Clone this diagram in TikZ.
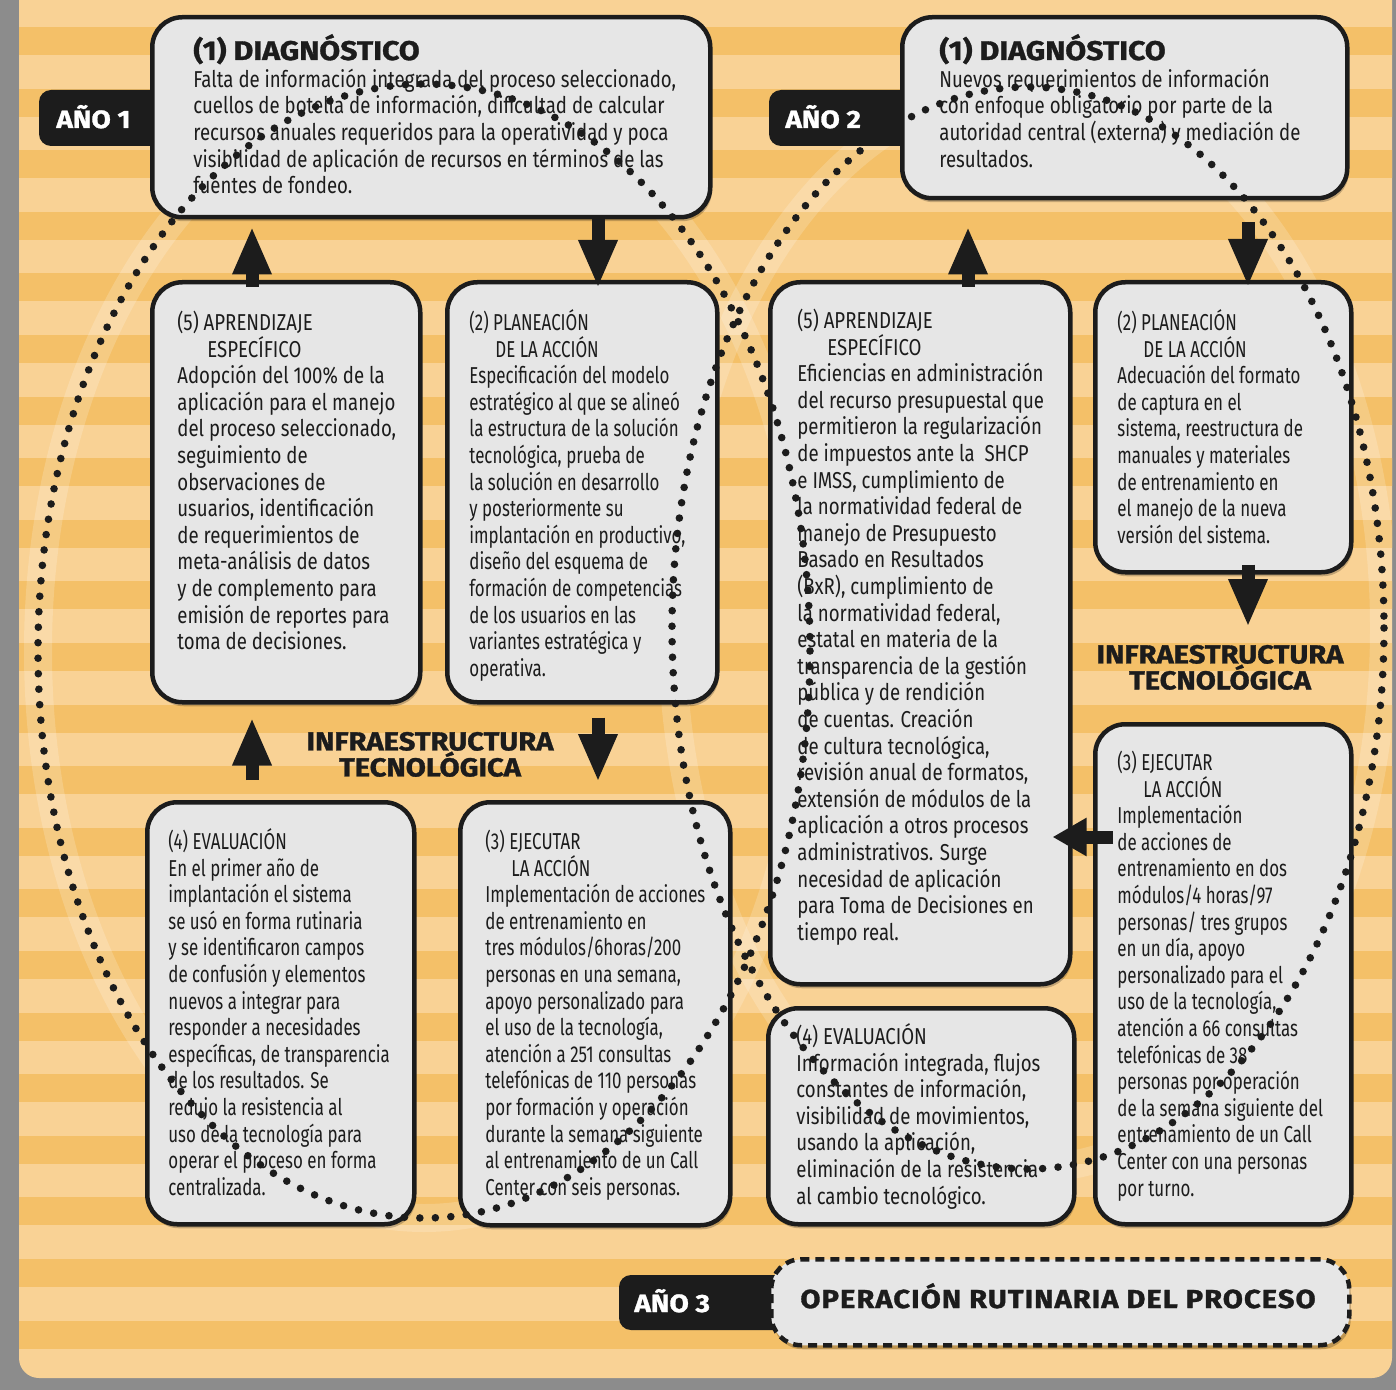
\documentclass[tikz,border=0pt]{standalone}
\usepackage{fontspec}
\setmainfont{Fira Sans}
\newfontfamily\regfont[FakeStretch=0.81]{Fira Sans}
\newfontfamily\cndfont[FakeStretch=0.735]{Fira Sans}
\newfontfamily\ttlfont[FakeStretch=1.12, FakeBold=1.2]{Fira Sans}
\newfontfamily\opfont[FakeStretch=1.12, FakeBold=1.2, LetterSpace=4]{Fira Sans}
\usetikzlibrary{arrows.meta}

\definecolor{stripeA}{RGB}{249,210,149}
\definecolor{stripeB}{RGB}{244,192,104}
\definecolor{frameg}{RGB}{140,140,140}
\definecolor{boxg}{RGB}{230,230,230}
\definecolor{inkb}{RGB}{28,28,28}

\newcommand{\tl}{\rule{0pt}{11pt}}

\tikzset{
  box/.style={draw=inkb, line width=2.25pt, fill=boxg, rounded corners=15pt, anchor=north west, inner sep=0pt,
    preaction={fill=black, opacity=0.22, transform canvas={xshift=0.75pt, yshift=-2pt}}},
  regtxt/.style={anchor=north west, inner sep=0pt, align=left, text=inkb, font=\fontsize{11.5}{13.3}\regfont},
  cndtxt/.style={anchor=north west, inner sep=0pt, align=left, text=inkb, font=\fontsize{11.5}{13.3}\cndfont},
  ttltxt/.style={anchor=base west, inner sep=0pt, text=inkb, font=\fontsize{13.5}{16}\ttlfont\bfseries},
  yeartxt/.style={anchor=base west, inner sep=0pt, text=white, font=\fontsize{12.5}{15}\ttlfont\bfseries},
  infratxt/.style={anchor=north, inner sep=0pt, align=center, text=inkb, font=\fontsize{13}{13}\ttlfont\bfseries},
  tagbox/.style={fill=inkb, rounded corners=6pt},
  bigarrow/.style={draw=inkb, line width=6.5pt, -{Triangle[length=24pt, width=18pt]}},
  sidearrow/.style={draw=inkb, line width=6.5pt, -{Triangle[length=17pt, width=18pt]}},
  dotline/.style={draw=inkb, line width=3.8pt, line cap=round, dash pattern=on 0pt off 7.75pt},
  glowline/.style={draw=white, line width=14pt, opacity=0.18},
}

\begin{document}
\begin{tikzpicture}[x=0.5pt,y=0.5pt,yscale=-1]
\useasboundingbox (0,0) rectangle (1396,1390);

%Shape: frame and striped panel
\fill[frameg] (0,0) rectangle (1396,1390);
\begin{scope}
  \clip[rounded corners=10pt] (19,-40) rectangle (1392,1378);
  \fill[stripeA] (0,0) rectangle (1396,1390);
  \foreach \k in {0,...,22}
    \fill[stripeB] (0,{27+61.6*\k}) rectangle (1396,{55+61.6*\k});
  %Shape: soft glow under the cycles
  \draw[glowline] (424,651) ellipse [x radius=386, y radius=567];
  \draw[glowline] (1028,628) ellipse [x radius=356, y radius=541];
\end{scope}

%Rounded Rect: year tags
\fill[tagbox] (39,90) rectangle (200,146);
\fill[tagbox] (769,90) rectangle (930,146);
\fill[tagbox] (619,1275) rectangle (800,1330);

%Rounded Rect: year 1 boxes
\node[box, minimum width=279pt, minimum height=100pt] (d1) at (150,15) {};
\node[box, minimum width=134pt, minimum height=210pt] (b5a) at (150,280) {};
\node[box, minimum width=135pt, minimum height=210pt] (b2a) at (445,280) {};
\node[box, minimum width=133.5pt, minimum height=211pt] (b4a) at (145,800) {};
\node[box, minimum width=135pt, minimum height=211.5pt] (b3a) at (458,800) {};
%Rounded Rect: year 2 boxes
\node[box, minimum width=222.5pt, minimum height=90.5pt] (d2) at (900,15) {};
\node[box, minimum width=150pt, minimum height=351pt] (b5b) at (768,280) {};
\node[box, minimum width=128pt, minimum height=145pt] (b2b) at (1093,280) {};
\node[box, minimum width=128pt, minimum height=250pt] (b3b) at (1093,722) {};
\node[box, minimum width=153pt, minimum height=108pt] (b4b) at (766,1006) {};
%Rounded Rect: year 3 box
\node[box, dash pattern=on 4.5pt off 3pt, minimum width=289pt, minimum height=43pt] (op) at (769,1257) {};

% Text Node: tags
\node[yeartxt] (y1) at (56,128) {AÑO 1};
\node[yeartxt] (y2) at (785,128) {AÑO 2};
\node[yeartxt] (y3) at (634,1312) {AÑO 3};

% Text Node: year 1
\node[ttltxt] (d1t) at (193,60) {(1) DIAGNÓSTICO};
\node[regtxt] (d1x) at (193,65) {\tl Falta de información integrada del proceso seleccionado,\\cuellos de botella de información, dificultad de calcular\\recursos anuales requeridos para la operatividad y poca\\visibilidad de aplicación de recursos en términos de las\\fuentes de fondeo.};
\node[regtxt] (b5ax) at (177,308) {\tl(5) APRENDIZAJE\\\hspace*{15pt}ESPECÍFICO\\Adopción del 100\% de la\\aplicación para el manejo\\del proceso seleccionado,\\seguimiento de\\observaciones de\\usuarios, identificación\\de requerimientos de\\meta-análisis de datos\\y de complemento para\\emisión de reportes para\\toma de decisiones.};
\node[cndtxt] (b2ax) at (469,308) {\tl(2) PLANEACIÓN\\\hspace*{13pt}DE LA ACCIÓN\\Especificación del modelo\\estratégico al que se alineó\\la estructura de la solución\\tecnológica, prueba de\\la solución en desarrollo\\y posteriormente su\\implantación en productivo,\\diseño del esquema de\\formación de competencias\\de los usuarios en las\\variantes estratégica y\\operativa.};
\node[cndtxt] (b4ax) at (168,827) {\tl(4) EVALUACIÓN\\En el primer año de\\implantación el sistema\\se usó en forma rutinaria\\y se identificaron campos\\de confusión y elementos\\nuevos a integrar para\\responder a necesidades\\específicas, de transparencia\\de los resultados. Se\\redujo la resistencia al\\uso de la tecnología para\\operar el proceso en forma\\centralizada.};
\node[cndtxt] (b3ax) at (485,827) {\tl(3) EJECUTAR\\\hspace*{13pt}LA ACCIÓN\\Implementación de acciones\\de entrenamiento en\\tres módulos/6horas/200\\personas en una semana,\\apoyo personalizado para\\el uso de la tecnología,\\atención a 251 consultas\\telefónicas de 110 personas\\por formación y operación\\durante la semana siguiente\\al entrenamiento de un Call\\Center con seis personas.};
\node[infratxt] (inf1) at (430,728) {\tl INFRAESTRUCTURA\\TECNOLÓGICA};

% Text Node: year 2
\node[ttltxt] (d2t) at (939,60) {(1) DIAGNÓSTICO};
\node[regtxt] (d2x) at (939,65) {\tl Nuevos requerimientos de información\\con enfoque obligatorio por parte de la\\autoridad central (externa) y mediación de\\resultados.};
\node[regtxt] (b5bx) at (797,306) {\tl(5) APRENDIZAJE\\\hspace*{15pt}ESPECÍFICO\\Eficiencias en administración\\del recurso presupuestal que\\permitieron la regularización\\de impuestos ante la\ \ SHCP\\e IMSS, cumplimiento de\\la normatividad federal de\\manejo de Presupuesto\\Basado en Resultados\\(BxR), cumplimiento de\\la normatividad federal,\\estatal en materia de la\\transparencia de la gestión\\pública y de rendición\\de cuentas. Creación\\de cultura tecnológica,\\revisión anual de formatos,\\extensión de módulos de la\\aplicación a otros procesos\\administrativos. Surge\\necesidad de aplicación\\para Toma de Decisiones en\\tiempo real.};
\node[cndtxt] (b2bx) at (1117,308) {\tl(2) PLANEACIÓN\\\hspace*{13pt}DE LA ACCIÓN\\Adecuación del formato\\de captura en el\\sistema, reestructura de\\manuales y materiales\\de entrenamiento en\\el manejo de la nueva\\versión del sistema.};
\node[cndtxt] (b3bx) at (1117,748) {\tl(3) EJECUTAR\\\hspace*{13pt}LA ACCIÓN\\Implementación\\de acciones de\\entrenamiento en dos\\módulos/4 horas/97\\personas/ tres grupos\\en un día, apoyo\\personalizado para el\\uso de la tecnología,\\atención a 66 consultas\\telefónicas de 38\\personas por operación\\de la semana siguiente del\\entrenamiento de un Call\\Center con una personas\\por turno.};
\node[regtxt] (b4bx) at (796,1022) {\tl(4) EVALUACIÓN\\Información integrada, flujos\\constantes de información,\\visibilidad de movimientos,\\usando la aplicación,\\eliminación de la resistencia\\al cambio tecnológico.};
\node[infratxt] (inf2) at (1220,641) {\tl INFRAESTRUCTURA\\TECNOLÓGICA};

% Text Node: year 3
\node[ttltxt, font=\fontsize{13}{16}\opfont\bfseries] (opt) at (800,1308) {OPERACIÓN RUTINARIA DEL PROCESO};

%Straight Lines: cycle arrows
\coordinate (ax1) at (252,0);
\coordinate (ax2) at (598,0);
\coordinate (ax3) at (968,0);
\coordinate (ax4) at (1248,0);
\coordinate (ay1) at (0,837);
\coordinate (la) at (b3b.west |- ay1);
\coordinate (lb) at (b5b.east |- ay1);
\draw[bigarrow, shorten <=-3.5pt, shorten >=3.5pt] (b5a.north -| ax1) -- (d1.south -| ax1);
\draw[bigarrow, shorten >=-4pt] (d1.south -| ax2) -- (b2a.north -| ax2);
\draw[bigarrow, shorten <=6.5pt, shorten >=9pt] (b2a.south -| ax2) -- (b3a.north -| ax2);
\draw[bigarrow, shorten <=10pt, shorten >=6.5pt] (b4a.north -| ax1) -- (b5a.south -| ax1);
\draw[bigarrow, shorten <=-3.5pt, shorten >=13pt] (b5b.north -| ax3) -- (d2.south -| ax3);
\draw[bigarrow, shorten <=11pt, shorten >=-3.5pt] (d2.south -| ax4) -- (b2b.north -| ax4);
\draw[bigarrow, shorten <=-5pt, shorten >=47.5pt] (b2b.south -| ax4) -- (b3b.north -| ax4);
\draw[sidearrow] ([xshift=10pt]la) -- ([xshift=-10pt]lb);

%Shape: dotted cycles
\draw[dotline] (424,651) ellipse [x radius=386, y radius=567];
\draw[dotline] (1028,628) ellipse [x radius=356, y radius=541];

\end{tikzpicture}
\end{document}
